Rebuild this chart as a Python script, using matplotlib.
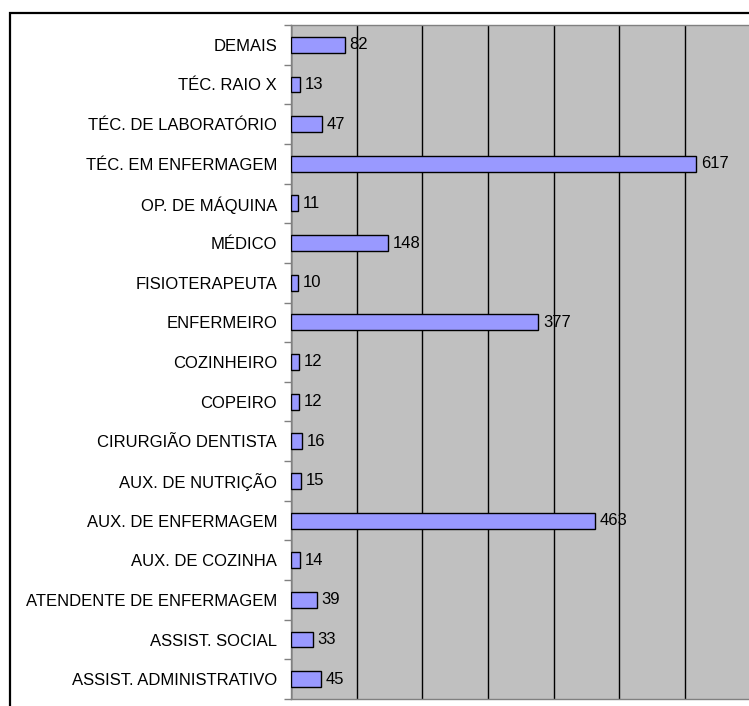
import matplotlib.pyplot as plt
import matplotlib.patches as patches
import numpy as np

plt.rcParams['font.family'] = ['Liberation Sans', 'DejaVu Sans']

categorias = ['ASSIST. ADMINISTRATIVO', 'ASSIST. SOCIAL', 'ATENDENTE DE ENFERMAGEM',
              'AUX. DE COZINHA', 'AUX. DE ENFERMAGEM', 'AUX. DE NUTRIÇÃO',
              'CIRURGIÃO DENTISTA', 'COPEIRO', 'COZINHEIRO', 'ENFERMEIRO',
              'FISIOTERAPEUTA', 'MÉDICO', 'OP. DE MÁQUINA', 'TÉC. EM ENFERMAGEM',
              'TÉC. DE LABORATÓRIO', 'TÉC. RAIO X', 'DEMAIS']
valores = [45, 33, 39, 14, 463, 15, 16, 12, 12, 377, 10, 148, 11, 617, 47, 13, 82]
grade_x = [0, 100, 200, 300, 400, 500, 600, 700]

fig = plt.figure(figsize=(7.49, 7.06), dpi=100)

# moldura externa do grafico (cortada a direita e embaixo)
frame = patches.Rectangle((9.5 / 749, -0.05), 1.2, 1 - 12.5 / 706 + 0.05,
                          transform=fig.transFigure, fill=False,
                          edgecolor='black', linewidth=1.6, zorder=0)
fig.patches.append(frame)

ax = fig.add_axes([291 / 749, 7 / 706, (750.5 - 291) / 749, (699 - 25) / 706])
ax.set_facecolor('#C0C0C0')

y = np.arange(len(categorias))
bars = ax.barh(y, valores, height=0.4, color='#9999FF', edgecolor='black',
               linewidth=1.0, zorder=3)
ax.bar_label(bars, labels=[str(v) for v in valores], padding=3.5,
             fontsize=12, color='black', zorder=4)

ax.set_xlim(0, 700)
ax.set_ylim(-0.5, len(categorias) - 0.5)
ax.set_xticks(grade_x)
ax.set_xticklabels([])
ax.tick_params(axis='x', length=0)
ax.grid(axis='x', color='black', linewidth=1.0, zorder=1)

ax.set_yticks(y)
ax.set_yticklabels(categorias, fontsize=12)
ax.set_yticks(np.arange(-0.5, len(categorias), 1), minor=True)
ax.tick_params(axis='y', which='major', length=0, pad=10)
ax.tick_params(axis='y', which='minor', length=5, color='#808080', width=1)

for s in ['left', 'bottom', 'top']:
    ax.spines[s].set_color('#808080')
    ax.spines[s].set_linewidth(1.0)
ax.spines['right'].set_visible(False)

fig.savefig('out.png', dpi=100)
